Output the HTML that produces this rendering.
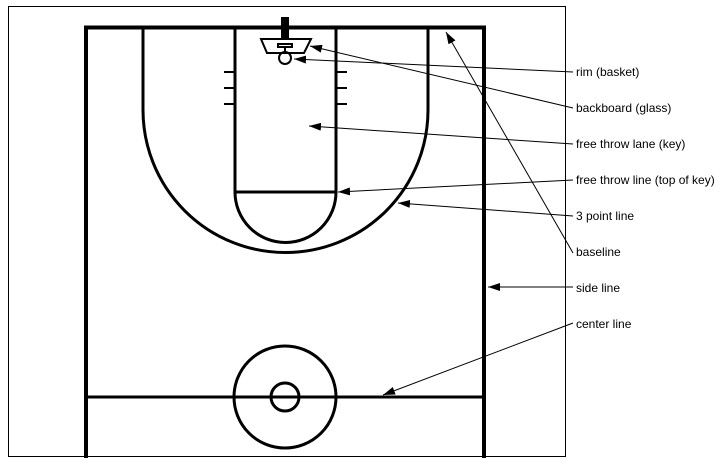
<!DOCTYPE html>
<html><head><meta charset="utf-8"><style>
html,body{margin:0;padding:0;background:#fff;}
svg{display:block;}
text{font-family:"Liberation Sans",Arial,sans-serif;font-size:12px;fill:#000;}
</style></head><body>
<svg width="726" height="466" viewBox="0 0 726 466" xmlns="http://www.w3.org/2000/svg">
<defs>
<marker id="a" markerWidth="12" markerHeight="8" refX="12" refY="4" orient="auto" markerUnits="userSpaceOnUse">
<path d="M0,0 L12,4 L0,8 Z" fill="#000"/>
</marker>
</defs>
<rect x="8.5" y="6.5" width="557" height="450" fill="none" stroke="#000" stroke-width="1"/>
<g fill="none" stroke="#000" stroke-width="3">
<path d="M86,458 V27.5 H484 V458" stroke-width="4"/>
<line x1="86" y1="397" x2="484" y2="397"/>
<circle cx="285" cy="397" r="51"/>
<circle cx="285" cy="397" r="14"/>
<path d="M235,27 V192 H336 V27"/>
<path d="M235,192 A50,50 0 0 0 336,192"/>
<path d="M143,27 V110 A142,142 0 0 0 428,110 V27"/>
<path d="M224,72 H235 M224,88 H235 M224,104 H235 M336,72 H347 M336,88 H347 M336,104 H347" stroke-width="2"/>
<path d="M261,39 H311 L304,53 H267 Z" stroke-width="2"/>
<rect x="278" y="44" width="14" height="3" stroke-width="2"/>
<line x1="285" y1="47" x2="285" y2="52" stroke-width="2"/>
<circle cx="285" cy="58" r="6" stroke-width="2"/>
</g>
<rect x="281" y="17" width="8" height="21" fill="#000"/>
<g stroke="#000" stroke-width="1" fill="none">
<line x1="573" y1="72" x2="294" y2="59" marker-end="url(#a)"/>
<line x1="573" y1="108" x2="310" y2="46" marker-end="url(#a)"/>
<line x1="573" y1="144" x2="309" y2="126" marker-end="url(#a)"/>
<line x1="573" y1="180" x2="338" y2="192" marker-end="url(#a)"/>
<line x1="573" y1="216" x2="398" y2="203" marker-end="url(#a)"/>
<line x1="573" y1="253" x2="446" y2="32" marker-end="url(#a)"/>
<line x1="573" y1="287" x2="488" y2="287" marker-end="url(#a)"/>
<line x1="573" y1="323" x2="383" y2="395" marker-end="url(#a)"/>
</g>
<text x="576" y="76">rim (basket)</text>
<text x="576" y="112">backboard (glass)</text>
<text x="576" y="148">free throw lane (key)</text>
<text x="576" y="184">free throw line (top of key)</text>
<text x="576" y="220">3 point line</text>
<text x="576" y="256">baseline</text>
<text x="576" y="292">side line</text>
<text x="576" y="328">center line</text>
</svg>
</body></html>
